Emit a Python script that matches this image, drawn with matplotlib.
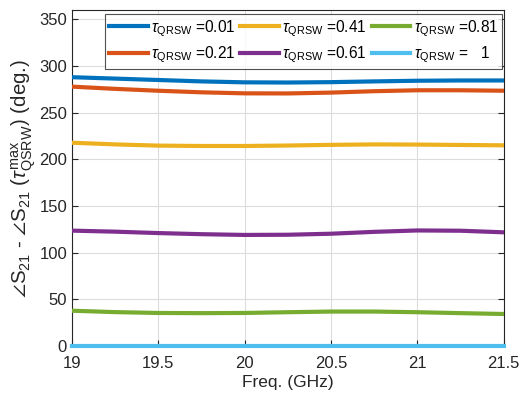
import matplotlib
matplotlib.use("Agg")
import matplotlib.pyplot as plt

plt.rcParams['font.family'] = ['Liberation Sans', 'DejaVu Sans']
plt.rcParams['mathtext.fontset'] = 'custom'
plt.rcParams['mathtext.rm'] = 'Liberation Sans'
plt.rcParams['mathtext.it'] = 'Liberation Sans:italic'
plt.rcParams['mathtext.bf'] = 'Liberation Sans:bold'

freq = [19.0, 19.25, 19.5, 19.75, 20.0, 20.25, 20.5, 20.75, 21.0, 21.25, 21.5]
tau_labels = ['0.01', '0.21', '0.41', '0.61', '0.81', '   1']
phase_001 = [288, 286.5, 285, 283.5, 282.5, 282.3, 282.7, 283.5, 284.2, 284.5, 284.5]
phase_021 = [277.9, 275.5, 273.5, 271.8, 270.7, 270.6, 271.5, 273, 274, 274, 273.5]
phase_041 = [217.8, 216, 214.7, 214.3, 214.3, 214.8, 215.5, 216, 215.8, 215.4, 215]
phase_061 = [123.6, 122.5, 121, 119.8, 119, 119.2, 120.3, 122.3, 123.8, 123.5, 121.8]
phase_081 = [37.8, 36.3, 35.4, 35.2, 35.4, 36.2, 36.9, 36.9, 36.2, 35.2, 34.3]
phase_100 = [0, 0, 0, 0, 0, 0, 0, 0, 0, 0, 0]

series = [phase_001, phase_021, phase_041, phase_061, phase_081, phase_100]
colors = ['#0072BD', '#D95319', '#EDB120', '#7E2F8E', '#77AC30', '#4DBEEE']

fig = plt.figure(figsize=(5.21, 4.0), dpi=100)
ax = fig.add_axes([0.138, 0.135, 0.829, 0.84])

for s, c, t in zip(series, colors, tau_labels):
    clip = t.strip() != '1'
    ax.plot(freq, s, color=c, lw=3.0, label=r'$\tau_{\mathrm{QRSW}}$ =' + t,
            clip_on=clip, zorder=5 if clip else 6)

ax.set_xlim(19, 21.5)
ax.set_ylim(0, 360)
ax.set_xticks([19, 19.5, 20, 20.5, 21, 21.5])
ax.set_xticklabels(['19', '19.5', '20', '20.5', '21', '21.5'])
ax.set_yticks([0, 50, 100, 150, 200, 250, 300, 350])
ax.grid(True, color='#dcdcdc', lw=0.8)
ax.set_axisbelow(True)
ax.tick_params(direction='in', length=4, labelsize=12, colors='#262626',
               top=False, right=True)
ax.tick_params(axis='x', pad=7)
for sp in ax.spines.values():
    sp.set_color('#262626')
    sp.set_linewidth(0.8)

ax.set_xlabel('Freq. (GHz)', fontsize=12.5, color='#262626', labelpad=3)
ax.set_ylabel(r'$\angle\mathrm{S}_{21}$ - $\angle\mathrm{S}_{21}$ ($\tau^{\mathrm{max}}_{\mathrm{QSRW}}$) (deg.)',
              fontsize=14.8, color='#262626', labelpad=1)

leg = ax.legend(ncol=3, loc='upper right', bbox_to_anchor=(0.996, 0.988),
                fontsize=11.2, frameon=True, fancybox=False, edgecolor='#262626',
                handlelength=2.5, handletextpad=0.2, columnspacing=0.3,
                labelspacing=0.4, borderpad=0.25, borderaxespad=0.0)
leg.get_frame().set_linewidth(0.8)
leg.set_zorder(10)

fig.savefig('out.png', dpi=100)
